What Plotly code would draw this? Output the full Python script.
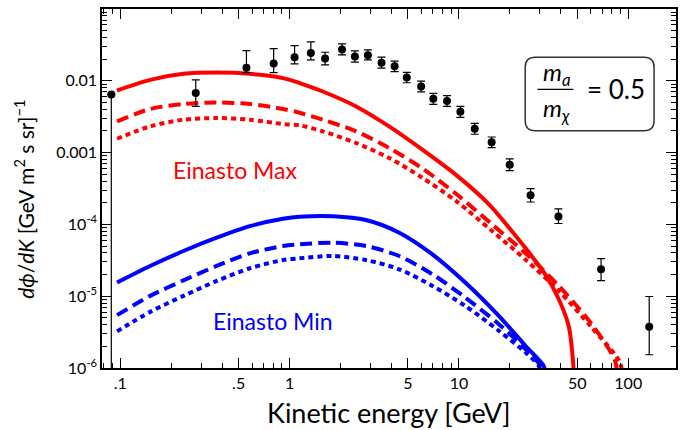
import plotly.graph_objects as go

# ---------------- data ----------------
data_E = [0.0885, 0.279, 0.556, 0.805, 1.07, 1.335, 1.62, 2.04, 2.43, 2.90, 3.49, 4.17,
          4.92, 5.98, 7.06, 8.50, 10.2, 12.4, 15.6, 19.95, 26.5, 38.7, 69.1, 133]
data_flux = [0.00645, 0.00675, 0.0152, 0.0174, 0.0213, 0.0243, 0.0204, 0.0272, 0.0218, 0.0227,
             0.0179, 0.0159, 0.0111, 0.00834, 0.00562, 0.00523, 0.00371, 0.00215, 0.00139,
             0.00068, 2.55e-4, 1.29e-4, 2.37e-5, 3.75e-6]
data_hi = [0.00645, 0.0103, 0.0264, 0.0281, 0.0309, 0.0348, 0.0250, 0.0327, 0.0261, 0.0270,
           0.0213, 0.0188, 0.0131, 0.0099, 0.0067, 0.0062, 0.0044, 0.00255, 0.00165,
           0.00082, 3.15e-4, 1.65e-4, 3.34e-5, 9.9e-6]
data_lo = [1e-7, 0.0044, 0.0130, 0.0130, 0.0172, 0.0196, 0.0167, 0.0230, 0.0182, 0.0196,
           0.0150, 0.0134, 0.0094, 0.0070, 0.0047, 0.0044, 0.0031, 0.0018, 0.00117,
           0.00056, 2.05e-4, 1.03e-4, 1.65e-5, 1.53e-6]

max_solid_E = [0.0957, 0.150, 0.236, 0.371, 0.582, 0.914, 1.146, 1.57, 2.47, 3.87, 6.08, 9.57,
               15.0, 24.7, 32.4, 38.7, 44.4, 47.4, 47.8]
max_solid_flux = [7.33e-3, 1.03e-2, 1.25e-2, 1.30e-2, 1.25e-2, 1.09e-2, 9.29e-3, 7.10e-3, 4.40e-3,
                  2.32e-3, 1.10e-3, 4.94e-4, 1.92e-4, 4.68e-5, 2.0e-5, 9.3e-6, 3.9e-6, 1.07e-6, 5e-7]
max_dash_E = [0.0957, 0.150, 0.236, 0.371, 0.582, 0.914, 1.146, 1.57, 2.47, 3.87, 6.08, 9.57,
              15.7, 24.7, 38.7, 60.8, 83.6, 86.0]
max_dash_flux = [2.72e-3, 4.05e-3, 4.74e-3, 5.0e-3, 4.74e-3, 4.05e-3, 3.59e-3, 2.87e-3, 1.98e-3,
                 1.16e-3, 6.03e-4, 2.69e-4, 1.0e-4, 3.98e-5, 1.41e-5, 4.08e-6, 1.26e-6, 7e-7]
max_dot_E = [0.0957, 0.150, 0.236, 0.371, 0.582, 0.914, 1.146, 1.57, 2.47, 3.87, 6.08, 9.57,
             15.7, 24.7, 38.7, 60.8, 89.3, 92.0]
max_dot_flux = [1.56e-3, 2.32e-3, 2.87e-3, 3.03e-3, 2.87e-3, 2.50e-3, 2.40e-3, 1.98e-3, 1.36e-3,
                8.43e-4, 4.46e-4, 2.14e-4, 8.07e-5, 3.24e-5, 1.20e-5, 3.67e-6, 1.20e-6, 7e-7]

min_solid_E = [0.0957, 0.150, 0.236, 0.371, 0.582, 0.914, 1.146, 1.80, 2.82, 4.44, 6.97, 10.9,
               17.2, 24.7, 31.6, 32.5]
min_solid_flux = [1.55e-5, 2.63e-5, 4.26e-5, 6.53e-5, 9.46e-5, 1.20e-4, 1.28e-4, 1.30e-4, 1.15e-4,
                  7.67e-5, 3.83e-5, 1.55e-5, 5.32e-6, 2.04e-6, 1.08e-6, 8e-7]
min_dash_E = [0.0957, 0.150, 0.236, 0.371, 0.582, 0.914, 1.146, 1.80, 2.82, 4.44, 6.97, 10.9,
              17.2, 24.7, 30.2, 31.0]
min_dash_flux = [5.45e-6, 1.01e-5, 1.66e-5, 2.64e-5, 3.95e-5, 5.0e-5, 5.27e-5, 5.57e-5, 5.0e-5,
                 3.63e-5, 2.02e-5, 9.59e-6, 4.08e-6, 1.84e-6, 1.08e-6, 8e-7]
min_dot_E = [0.0957, 0.150, 0.236, 0.371, 0.582, 0.914, 1.146, 1.80, 2.82, 4.44, 6.97, 10.9,
             17.2, 24.7, 29.6, 30.4]
min_dot_flux = [3.24e-6, 6.05e-6, 1.01e-5, 1.63e-5, 2.45e-5, 3.19e-5, 3.37e-5, 3.63e-5, 3.19e-5,
                2.37e-5, 1.39e-5, 7.33e-6, 3.30e-6, 1.65e-6, 1.08e-6, 8e-7]

x_tick_vals = [0.1, 0.5, 1, 5, 10, 50, 100]
x_tick_text = [".1", ".5", "1", "5", "10", "50", "100"]
x_minor_vals = [0.08, 0.09, 0.2, 0.3, 0.4, 0.6, 0.7, 0.8, 0.9, 2, 3, 4, 6, 7, 8, 9,
                20, 30, 40, 60, 70, 80, 90]
y_tick_vals = [1e-6, 1e-5, 1e-4, 1e-3, 1e-2]
y_tick_text = ["10<sup>-6</sup>", "10<sup>-5</sup>", "10<sup>-4</sup>", "0.001", "0.01"]
y_minor_vals = [m * 10 ** e for e in range(-6, -1) for m in range(2, 10)]

RED = "#ff0000"
BLUE = "#0000ff"
FONT = "Lato"

fig = go.Figure()


def curve(xs, ys, color, dash):
    fig.add_trace(go.Scatter(x=xs, y=ys, mode="lines",
                             line=dict(color=color, width=4, dash=dash, shape="spline", smoothing=0.8),
                             hoverinfo="skip"))


curve(max_solid_E, max_solid_flux, RED, "solid")
curve(max_dash_E, max_dash_flux, RED, "12px,6px")
curve(max_dot_E, max_dot_flux, RED, "5px,4px")
curve(min_solid_E, min_solid_flux, BLUE, "solid")
curve(min_dash_E, min_dash_flux, BLUE, "12px,6px")
curve(min_dot_E, min_dot_flux, BLUE, "5px,4px")

err_plus = [h - f for h, f in zip(data_hi, data_flux)]
err_minus = [f - l for f, l in zip(data_flux, data_lo)]
fig.add_trace(go.Scatter(
    x=data_E, y=data_flux, mode="markers",
    marker=dict(color="black", size=8),
    error_y=dict(type="data", symmetric=False, array=err_plus, arrayminus=err_minus,
                 color="black", thickness=1.2, width=4),
))

axis_common = dict(
    type="log", ticks="inside", ticklen=10, tickwidth=1.2, tickcolor="black",
    showline=True, linecolor="black", linewidth=1.5, mirror="allticks",
    showgrid=False, zeroline=False, tickfont=dict(family=FONT, size=16, color="black"),
)

fig.update_layout(
    width=682, height=430,
    margin=dict(l=102, r=4, t=9, b=62),
    plot_bgcolor="white", paper_bgcolor="white",
    showlegend=False,
    font=dict(family=FONT, size=16, color="black"),
    xaxis=dict(range=[-1.108, 2.282], tickmode="array", tickvals=x_tick_vals, ticktext=x_tick_text,
               minor=dict(tickmode="array", tickvals=x_minor_vals, ticks="inside", ticklen=5,
                          tickwidth=1, tickcolor="black", showgrid=False),
               **axis_common),
    yaxis=dict(range=[-6, -1], tickmode="array", tickvals=y_tick_vals, ticktext=y_tick_text,
               minor=dict(tickmode="array", tickvals=y_minor_vals, ticks="inside", ticklen=5,
                          tickwidth=1, tickcolor="black", showgrid=False),
               **axis_common),
)

# axis titles
fig.add_annotation(xref="paper", yref="paper", x=0.5, y=-0.125, xanchor="center", yanchor="middle",
                   text="Kinetic energy [GeV]", showarrow=False,
                   font=dict(family=FONT, size=27, color="black"))
fig.add_annotation(xref="paper", yref="paper", x=-0.135, y=0.47, xanchor="center", yanchor="middle",
                   textangle=-90,
                   text="<i>d\u03d5</i>/<i>dK</i> [GeV m<sup>2</sup> s sr]<sup>\u22121</sup>",
                   showarrow=False, font=dict(family=FONT, size=21, color="black"))

# curve labels
fig.add_annotation(xref="paper", yref="paper", x=0.2326, y=0.5515, xanchor="center", yanchor="middle",
                   text="Einasto Max", showarrow=False, font=dict(family=FONT, size=23, color=RED))
fig.add_annotation(xref="paper", yref="paper", x=0.2986, y=0.1309, xanchor="center", yanchor="middle",
                   text="Einasto Min", showarrow=False, font=dict(family=FONT, size=23, color=BLUE))

# rounded box with mass ratio
x0, x1, y0, y1 = 0.7373, 0.9618, 0.661, 0.8655
rx, ry = 10 / 576, 10 / 359
path = (f"M {x0+rx},{y1} L {x1-rx},{y1} Q {x1},{y1} {x1},{y1-ry} L {x1},{y0+ry} "
        f"Q {x1},{y0} {x1-rx},{y0} L {x0+rx},{y0} Q {x0},{y0} {x0},{y0+ry} "
        f"L {x0},{y1-ry} Q {x0},{y1} {x0+rx},{y1} Z")
fig.add_shape(type="path", xref="paper", yref="paper", path=path,
              line=dict(color="#333333", width=1.5), fillcolor="white", layer="above")
fig.add_shape(type="line", xref="paper", yref="paper", x0=0.7587, x1=0.8212, y0=0.7763, y1=0.7763,
              line=dict(color="black", width=1.2), layer="above")
fig.add_annotation(xref="paper", yref="paper", x=0.7917, y=0.8217, xanchor="center", yanchor="middle",
                   text="<i>m<sub>a</sub></i>", showarrow=False,
                   font=dict(family=FONT, size=24, color="black"))
fig.add_annotation(xref="paper", yref="paper", x=0.7917, y=0.7187, xanchor="center", yanchor="middle",
                   text="<i>m<sub>\u03c7</sub></i>", showarrow=False,
                   font=dict(family=FONT, size=24, color="black"))
fig.add_annotation(xref="paper", yref="paper", x=0.896, y=0.7763, xanchor="center", yanchor="middle",
                   text="= 0.5", showarrow=False, font=dict(family=FONT, size=26, color="black"))

fig.write_html("out.html", config={"displayModeBar": False},
               post_script="document.body.style.margin='0';")
